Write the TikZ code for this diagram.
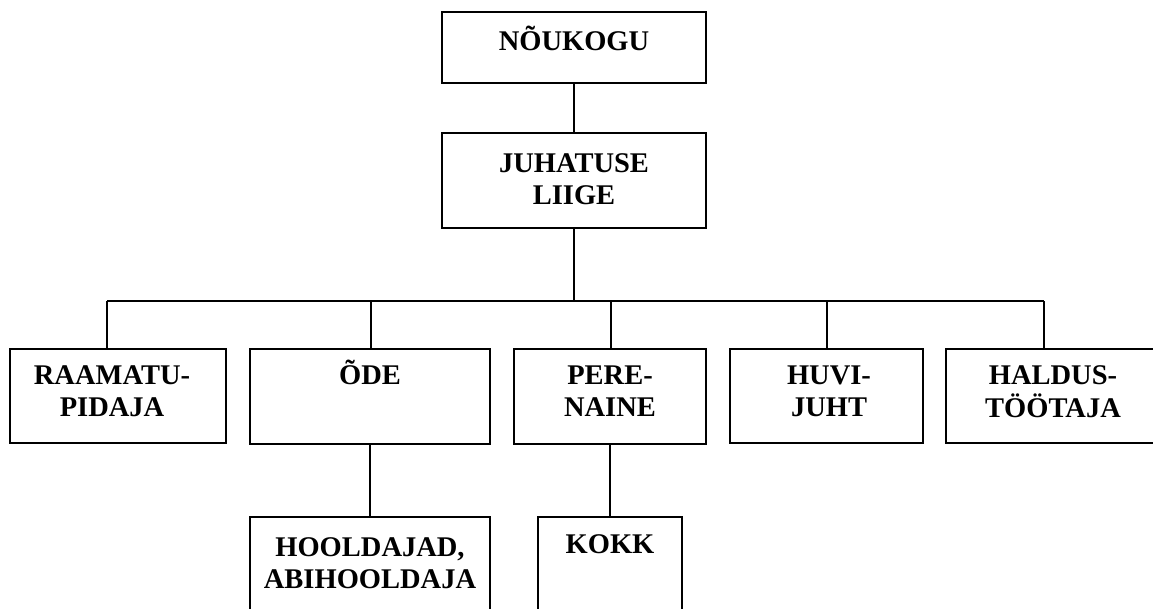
\documentclass[tikz,border=0pt]{standalone}
\usepackage{fontspec}
\setmainfont{Liberation Serif}
\begin{document}
\begin{tikzpicture}[x=1pt,y=-1pt,
  orgbox/.style={draw=black,line width=1.6pt,rectangle,inner sep=0pt,outer sep=0pt,fill=white},
  lbl/.style={anchor=base,inner sep=0pt,font=\bfseries\fontsize{28.5}{32.5}\selectfont},
  conn/.style={draw=black,line width=1.6pt}]
\useasboundingbox (0,0) rectangle (1153,608);
\clip (0,0) rectangle (1153,608);
\fill[white] (0,0) rectangle (1153,608);
% boxes
\node[orgbox,minimum width=264pt,minimum height=71pt] (nk) at (574,47.5) {};
\node[orgbox,minimum width=264pt,minimum height=95pt] (jl) at (574,180.5) {};
\node[orgbox,minimum width=216pt,minimum height=94pt] (rp) at (118,396) {};
\node[orgbox,minimum width=240pt,minimum height=95pt] (od) at (370,396.5) {};
\node[orgbox,minimum width=192pt,minimum height=95pt] (pn) at (610,396.5) {};
\node[orgbox,minimum width=193pt,minimum height=94pt] (hj) at (826.5,396) {};
\node[orgbox,minimum width=216pt,minimum height=94pt] (ht) at (1054,396) {};
\node[orgbox,minimum width=240pt,minimum height=103pt] (ho) at (370,568.5) {};
\node[orgbox,minimum width=144pt,minimum height=103pt] (kk) at (610,568.5) {};
% labels
\node[lbl] (tnk) at (574,50) {NÕUKOGU};
\node[lbl] (tjl) at (574,172) {\begin{tabular}[t]{@{}c@{}}JUHATUSE\\LIIGE\end{tabular}};
\node[lbl] (trp) at (112,384) {\begin{tabular}[t]{@{}c@{}}RAAMATU-\\PIDAJA\end{tabular}};
\node[lbl] (tod) at (370,384) {ÕDE};
\node[lbl] (tpn) at (610,384) {\begin{tabular}[t]{@{}c@{}}PERE-\\NAINE\end{tabular}};
\node[lbl] (thj) at (829,384) {\begin{tabular}[t]{@{}c@{}}HUVI-\\JUHT\end{tabular}};
\node[lbl] (tht) at (1053,384) {\begin{tabular}[t]{@{}c@{}}HALDUS-\\TÖÖTAJA\end{tabular}};
\node[lbl] (tho) at (370,556) {\begin{tabular}[t]{@{}c@{}}HOOLDAJAD,\\ABIHOOLDAJA\end{tabular}};
\node[lbl] (tkk) at (610,553) {KOKK};
% connectors
\coordinate (busL) at (107,301);
\coordinate (busR) at (1044,301);
\coordinate (bOd) at (371,301);
\coordinate (bPn) at (611,301);
\coordinate (bHj) at (827,301);
\draw[conn] (nk.south) -- (jl.north);
\draw[conn] (jl.south) -- (jl.south |- busL);
\draw[conn] (busL) -- (busR);
\draw[conn] (busL) -- (busL |- rp.north);
\draw[conn] (bOd) -- (bOd |- od.north);
\draw[conn] (bPn) -- (bPn |- pn.north);
\draw[conn] (bHj) -- (bHj |- hj.north);
\draw[conn] (busR) -- (busR |- ht.north);
\draw[conn] (od.south) -- (ho.north);
\draw[conn] (pn.south) -- (kk.north);
\end{tikzpicture}
\end{document}
